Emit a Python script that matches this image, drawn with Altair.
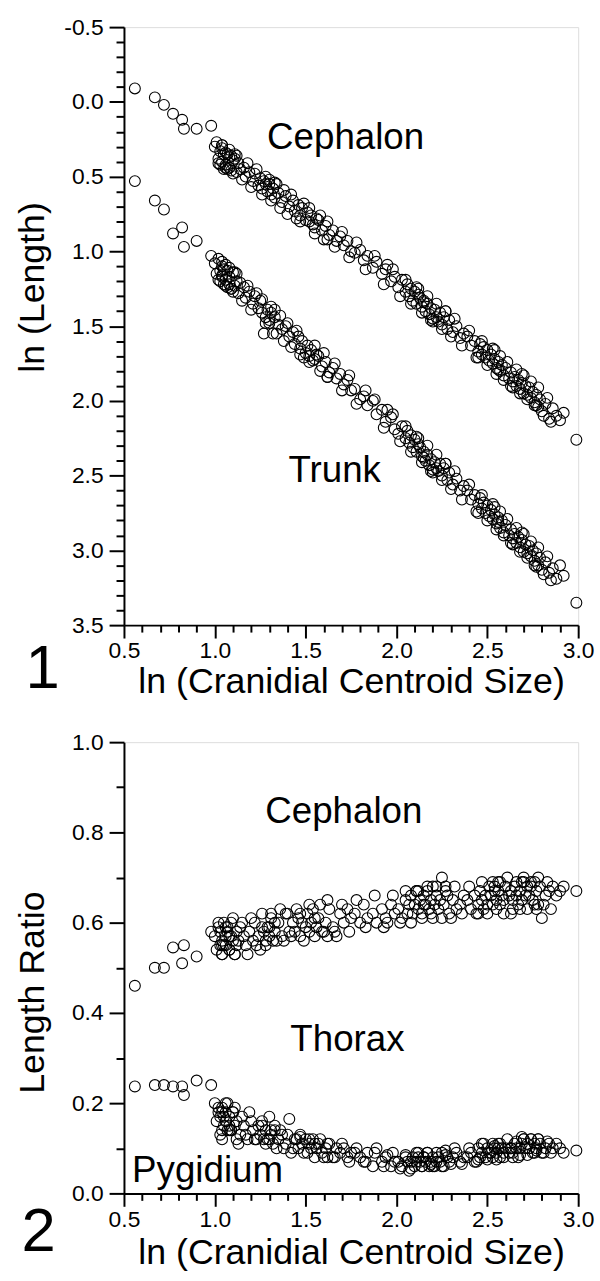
import altair as alt
import pandas as pd

FONT = "Liberation Sans"

# ln (Cranidial Centroid Size) for every specimen (shared by all four series)
x_size = [
    0.56, 0.67, 0.72, 0.77, 0.82, 0.83, 0.90, 0.98,
    1.00, 1.01, 1.02, 1.03, 1.03, 1.04, 1.04, 1.05, 1.05, 1.06,
    1.06, 1.07, 1.08, 1.08, 1.09, 1.10, 1.11, 1.12, 1.13, 1.14,
    1.16, 1.17, 1.19, 1.21, 1.22, 1.24, 1.25, 1.26, 1.27, 1.28,
    1.29, 1.30, 1.31, 1.32, 1.33, 1.35, 1.37, 1.39, 1.41, 1.43,
    1.44, 1.46, 1.47, 1.48, 1.50, 1.51, 1.52, 1.53, 1.54, 1.56,
    1.57, 1.59, 1.61, 1.63, 1.65, 1.67, 1.69, 1.71, 1.73, 1.75,
    1.77, 1.80, 1.82, 1.84, 1.87, 1.89, 1.92, 1.94, 1.97, 1.99,
    2.01, 2.03, 2.05, 2.06, 2.07, 2.08, 2.09, 2.10, 2.11, 2.12,
    2.13, 2.14, 2.15, 2.16, 2.17, 2.18, 2.19, 2.20, 2.21, 2.22,
    2.23, 2.24, 2.25, 2.26, 2.28, 2.29, 2.31, 2.33, 2.35, 2.37,
    2.39, 2.41, 2.43, 2.45, 2.46, 2.47, 2.48, 2.49, 2.50, 2.51,
    2.52, 2.53, 2.54, 2.55, 2.56, 2.57, 2.58, 2.59, 2.60, 2.62,
    2.63, 2.64, 2.65, 2.66, 2.67, 2.68, 2.69, 2.70, 2.71, 2.72,
    2.73, 2.74, 2.75, 2.76, 2.77, 2.78, 2.79, 2.80, 2.82, 2.84,
    2.86, 2.88, 2.90, 2.92, 1.04, 1.09, 1.30, 1.55, 2.15, 2.56,
    2.99,
    1.02, 1.04, 1.06, 1.08, 1.10, 1.12, 1.15, 1.18, 1.20, 1.23,
    1.26, 1.28, 1.31, 1.34, 1.36, 1.38, 1.40, 1.42, 1.45, 1.49,
    1.52, 1.55, 1.58, 1.60, 1.62, 1.66, 1.70, 1.74, 1.78, 1.83,
    1.88, 1.93, 1.98, 2.02, 2.05, 2.08, 2.11, 2.14, 2.17, 2.20,
    2.22, 2.25, 2.27, 2.30, 2.32, 2.36, 2.40, 2.44, 2.47, 2.50,
    2.53, 2.55, 2.57, 2.59, 2.61, 2.64, 2.66, 2.68, 2.70, 2.72,
    2.74, 2.76, 2.78, 2.81, 2.83, 2.85, 1.07, 1.33, 1.62, 2.12,
    2.19, 2.27, 2.45, 2.54, 2.63, 2.69, 2.77, 1.11, 1.47, 1.95,
]

ln_cephalon = [
    -0.09, -0.03, 0.02, 0.08, 0.12, 0.18, 0.18, 0.16,
    0.30, 0.27, 0.38, 0.33, 0.42, 0.31, 0.40, 0.35, 0.45, 0.34,
    0.42, 0.35, 0.44, 0.37, 0.46, 0.39, 0.38, 0.47, 0.41, 0.45,
    0.44, 0.50, 0.47, 0.53, 0.48, 0.56, 0.51, 0.58, 0.53, 0.55,
    0.60, 0.55, 0.62, 0.58, 0.64, 0.61, 0.67, 0.63, 0.70, 0.66,
    0.73, 0.69, 0.76, 0.71, 0.79, 0.74, 0.80, 0.76, 0.82, 0.78,
    0.79, 0.86, 0.83, 0.89, 0.86, 0.93, 0.90, 0.96, 0.93, 1.00,
    1.01, 0.99, 1.06, 1.03, 1.11, 1.07, 1.15, 1.12, 1.20, 1.17,
    1.24, 1.19, 1.27, 1.22, 1.30, 1.25, 1.33, 1.27, 1.35, 1.29,
    1.31, 1.37, 1.33, 1.40, 1.35, 1.42, 1.38, 1.45, 1.39, 1.44,
    1.47, 1.41, 1.49, 1.44, 1.52, 1.46, 1.54, 1.50, 1.58, 1.55,
    1.57, 1.63, 1.60, 1.67, 1.62, 1.69, 1.64, 1.71, 1.66, 1.73,
    1.69, 1.75, 1.72, 1.78, 1.74, 1.80, 1.76, 1.83, 1.78, 1.85,
    1.81, 1.87, 1.84, 1.90, 1.86, 1.92, 1.88, 1.95, 1.90, 1.96,
    1.91, 1.98, 1.94, 2.01, 1.96, 2.04, 1.99, 2.07, 2.02, 2.12,
    2.05, 2.10, 2.13, 2.08, 0.29, 0.36, 0.52, 0.84, 1.34, 1.79,
    2.26,
    0.41, 0.29, 0.44, 0.32, 0.48, 0.36, 0.52, 0.41, 0.57, 0.45,
    0.62, 0.50, 0.66, 0.55, 0.71, 0.59, 0.75, 0.62, 0.78, 0.68,
    0.71, 0.88, 0.76, 0.92, 0.80, 0.97, 0.87, 1.04, 0.94, 1.12,
    1.03, 1.22, 1.12, 1.30, 1.19, 1.35, 1.24, 1.41, 1.30, 1.47,
    1.35, 1.52, 1.40, 1.57, 1.45, 1.63, 1.53, 1.71, 1.60, 1.76,
    1.65, 1.82, 1.70, 1.86, 1.74, 1.91, 1.79, 1.95, 1.83, 1.99,
    1.87, 2.03, 1.91, 2.10, 1.98, 2.14, 0.45, 0.54, 0.92, 1.25,
    1.46, 1.40, 1.71, 1.66, 1.90, 1.82, 2.03, 0.35, 0.80, 1.09,
]

ln_trunk = [
    0.53, 0.66, 0.72, 0.88, 0.84, 0.97, 0.93, 1.03,
    1.08, 1.15, 1.05, 1.13, 1.20, 1.10, 1.17, 1.12, 1.22, 1.09,
    1.19, 1.13, 1.22, 1.17, 1.25, 1.14, 1.23, 1.20, 1.28, 1.21,
    1.24, 1.31, 1.27, 1.35, 1.30, 1.38, 1.33, 1.41, 1.55, 1.44,
    1.39, 1.46, 1.41, 1.55, 1.44, 1.49, 1.52, 1.50, 1.57, 1.54,
    1.62, 1.57, 1.65, 1.60, 1.68, 1.63, 1.70, 1.66, 1.73, 1.69,
    1.70, 1.77, 1.74, 1.81, 1.78, 1.85, 1.82, 1.89, 1.86, 1.93,
    1.92, 1.99, 1.97, 2.03, 2.00, 2.09, 2.06, 2.14, 2.11, 2.19,
    2.22, 2.17, 2.25, 2.20, 2.28, 2.23, 2.31, 2.26, 2.34, 2.29,
    2.31, 2.37, 2.34, 2.40, 2.36, 2.43, 2.39, 2.46, 2.41, 2.45,
    2.47, 2.42, 2.50, 2.45, 2.53, 2.48, 2.56, 2.52, 2.60, 2.57,
    2.60, 2.66, 2.63, 2.69, 2.65, 2.72, 2.68, 2.75, 2.70, 2.77,
    2.73, 2.79, 2.76, 2.82, 2.78, 2.85, 2.80, 2.88, 2.83, 2.90,
    2.86, 2.92, 2.89, 2.95, 2.91, 2.98, 2.93, 3.01, 2.96, 3.02,
    2.97, 3.04, 3.00, 3.07, 3.02, 3.10, 3.05, 3.13, 3.08, 3.15,
    3.12, 3.19, 3.10, 3.17, 1.16, 1.25, 1.48, 1.72, 2.38, 2.81,
    3.35,
    1.19, 1.07, 1.23, 1.11, 1.27, 1.15, 1.33, 1.23, 1.39, 1.28,
    1.32, 1.48, 1.37, 1.55, 1.43, 1.60, 1.48, 1.64, 1.53, 1.71,
    1.74, 1.63, 1.80, 1.68, 1.84, 1.75, 1.93, 1.83, 2.02, 1.93,
    1.99, 2.18, 2.09, 2.27, 2.17, 2.34, 2.24, 2.41, 2.30, 2.48,
    2.36, 2.53, 2.42, 2.59, 2.47, 2.66, 2.56, 2.74, 2.63, 2.80,
    2.69, 2.86, 2.74, 2.90, 2.79, 2.96, 2.85, 3.01, 2.89, 3.05,
    2.94, 3.10, 2.98, 3.16, 3.04, 3.20, 1.24, 1.39, 1.84, 2.25,
    2.47, 2.42, 2.75, 2.71, 2.95, 2.88, 3.11, 1.14, 1.69, 2.06,
]

ratio_cephalon = [
    0.46, 0.50, 0.50, 0.545, 0.51, 0.55, 0.525, 0.58,
    0.57, 0.54, 0.59, 0.55, 0.58, 0.53, 0.56, 0.60, 0.55, 0.57,
    0.55, 0.58, 0.54, 0.57, 0.60, 0.56, 0.53, 0.58, 0.56, 0.59,
    0.57, 0.55, 0.58, 0.56, 0.60, 0.57, 0.54, 0.59, 0.58, 0.56,
    0.59, 0.57, 0.61, 0.56, 0.58, 0.60, 0.57, 0.62, 0.58, 0.60,
    0.58, 0.61, 0.57, 0.60, 0.59, 0.62, 0.58, 0.60, 0.63, 0.59,
    0.61, 0.58, 0.60, 0.63, 0.59, 0.57, 0.62, 0.60, 0.63, 0.61,
    0.62, 0.60, 0.64, 0.61, 0.62, 0.60, 0.63, 0.61, 0.64, 0.62,
    0.63, 0.61, 0.65, 0.62, 0.64, 0.66, 0.62, 0.64, 0.67, 0.63,
    0.65, 0.62, 0.66, 0.64, 0.67, 0.63, 0.65, 0.68, 0.64, 0.66,
    0.63, 0.65, 0.70, 0.64, 0.66, 0.62, 0.65, 0.63, 0.64, 0.66,
    0.65, 0.63, 0.66, 0.64, 0.67, 0.65, 0.63, 0.66, 0.64, 0.68,
    0.66, 0.64, 0.67, 0.65, 0.69, 0.64, 0.66, 0.65, 0.68, 0.66,
    0.67, 0.65, 0.68, 0.66, 0.64, 0.67, 0.65, 0.69, 0.66, 0.68,
    0.66, 0.68, 0.65, 0.69, 0.67, 0.64, 0.68, 0.61, 0.66, 0.67,
    0.68, 0.66, 0.67, 0.68, 0.55, 0.57, 0.59, 0.61, 0.64, 0.67,
    0.67,
    0.60, 0.53, 0.59, 0.54, 0.61, 0.55, 0.60, 0.53, 0.61, 0.55,
    0.62, 0.55, 0.62, 0.56, 0.63, 0.56, 0.62, 0.57, 0.63, 0.56,
    0.64, 0.57, 0.64, 0.58, 0.65, 0.58, 0.64, 0.58, 0.65, 0.59,
    0.66, 0.59, 0.66, 0.60, 0.67, 0.60, 0.67, 0.61, 0.68, 0.61,
    0.68, 0.61, 0.68, 0.61, 0.68, 0.62, 0.68, 0.62, 0.69, 0.62,
    0.69, 0.63, 0.69, 0.62, 0.70, 0.63, 0.69, 0.63, 0.70, 0.63,
    0.69, 0.64, 0.70, 0.64, 0.69, 0.63, 0.59, 0.60, 0.57, 0.67,
    0.62, 0.67, 0.62, 0.68, 0.62, 0.69, 0.63, 0.53, 0.62, 0.60,
]

ratio_pygidium = [
    0.237, 0.24, 0.24, 0.237, 0.237, 0.218, 0.25, 0.24,
    0.20, 0.16, 0.18, 0.13, 0.17, 0.12, 0.19, 0.15, 0.17, 0.18,
    0.16, 0.20, 0.15, 0.17, 0.14, 0.18, 0.15, 0.16, 0.11, 0.13,
    0.15, 0.13, 0.18, 0.14, 0.12, 0.15, 0.13, 0.16, 0.12, 0.14,
    0.12, 0.17, 0.13, 0.11, 0.14, 0.12, 0.13, 0.11, 0.165, 0.10,
    0.12, 0.10, 0.13, 0.11, 0.12, 0.09, 0.11, 0.10, 0.12, 0.10,
    0.11, 0.09, 0.10, 0.11, 0.08, 0.10, 0.09, 0.10, 0.08, 0.09,
    0.09, 0.08, 0.07, 0.09, 0.06, 0.10, 0.07, 0.08, 0.06, 0.07,
    0.07, 0.06, 0.08, 0.07, 0.05, 0.07, 0.08, 0.06, 0.07, 0.08,
    0.07, 0.06, 0.08, 0.07, 0.09, 0.06, 0.07, 0.08, 0.06, 0.07,
    0.08, 0.07, 0.09, 0.06, 0.08, 0.07, 0.08, 0.09, 0.07, 0.08,
    0.08, 0.09, 0.07, 0.10, 0.08, 0.09, 0.11, 0.08, 0.10, 0.09,
    0.09, 0.08, 0.10, 0.09, 0.11, 0.08, 0.10, 0.09, 0.10, 0.09,
    0.10, 0.09, 0.11, 0.10, 0.08, 0.10, 0.11, 0.12, 0.10, 0.11,
    0.10, 0.12, 0.09, 0.11, 0.10, 0.12, 0.11, 0.09, 0.10, 0.11,
    0.10, 0.11, 0.10, 0.09, 0.18, 0.14, 0.12, 0.11, 0.08, 0.10,
    0.095,
    0.19, 0.14, 0.20, 0.14, 0.18, 0.12, 0.17, 0.12, 0.16, 0.12,
    0.15, 0.11, 0.14, 0.10, 0.14, 0.10, 0.13, 0.09, 0.12, 0.09,
    0.12, 0.08, 0.12, 0.08, 0.11, 0.08, 0.11, 0.07, 0.10, 0.07,
    0.09, 0.06, 0.09, 0.055, 0.085, 0.055, 0.09, 0.06, 0.09, 0.06,
    0.09, 0.06, 0.095, 0.065, 0.10, 0.065, 0.10, 0.07, 0.11, 0.075,
    0.11, 0.075, 0.11, 0.08, 0.12, 0.08, 0.115, 0.085, 0.12, 0.085,
    0.12, 0.09, 0.12, 0.09, 0.115, 0.09, 0.14, 0.15, 0.08, 0.09,
    0.065, 0.085, 0.075, 0.105, 0.10, 0.125, 0.095, 0.19, 0.125, 0.085,
]

x_tick_values = [0.5, 0.6, 0.7, 0.8, 0.9, 1.0, 1.1, 1.2, 1.3, 1.4, 1.5, 1.6,
                 1.7, 1.8, 1.9, 2.0, 2.1, 2.2, 2.3, 2.4, 2.5, 2.6, 2.7, 2.8,
                 2.9, 3.0]
y_top_tick_values = [-0.5, -0.4, -0.3, -0.2, -0.1, 0.0, 0.1, 0.2, 0.3, 0.4,
                     0.5, 0.6, 0.7, 0.8, 0.9, 1.0, 1.1, 1.2, 1.3, 1.4, 1.5,
                     1.6, 1.7, 1.8, 1.9, 2.0, 2.1, 2.2, 2.3, 2.4, 2.5, 2.6,
                     2.7, 2.8, 2.9, 3.0, 3.1, 3.2, 3.3, 3.4, 3.5]
y_bottom_tick_values = [0.0, 0.1, 0.2, 0.3, 0.4, 0.5, 0.6, 0.7, 0.8, 0.9, 1.0]

top_labels = ["Cephalon", "Trunk"]
top_label_x = [1.72, 1.66]
top_label_y = [0.24, 2.47]
bottom_labels = ["Cephalon", "Thorax", "Pygidium"]
bottom_label_x = [1.71, 1.73, 0.96]
bottom_label_y = [0.846, 0.34, 0.05]

n = min(len(x_size), len(ln_cephalon), len(ln_trunk), len(ratio_cephalon), len(ratio_pygidium))

top_df = pd.DataFrame({
    "x": x_size[:n] * 2,
    "y": ln_cephalon[:n] + ln_trunk[:n],
})
bottom_df = pd.DataFrame({
    "x": x_size[:n] * 2,
    "y": ratio_cephalon[:n] + ratio_pygidium[:n],
})

TOP_W, TOP_H = 458, 603
BOT_W, BOT_H = 458, 455

LABEL_SIZE = 23
TITLE_SIZE = 36
NOTE_SIZE = 37
NUM_SIZE = 62


def major(step_mult):
    return f"abs(datum.value*{step_mult} - round(datum.value*{step_mult})) < 0.000001"


def lab_expr(step_mult):
    return (f"{major(step_mult)} ? (datum.value < 0 ? '-' + format(-datum.value, '.1f') "
            f": format(datum.value, '.1f')) : ''")


def common_axis(values, **kw):
    return alt.Axis(
        values=values, tickCount=len(values) + 5,
        grid=False, domainColor="black", domainWidth=2, tickColor="black",
        tickWidth=2, labelColor="black", titleColor="black",
        labelFont=FONT, titleFont=FONT, labelFontSize=LABEL_SIZE,
        titleFontSize=TITLE_SIZE, titleFontWeight="normal",
        labelFlush=False, labelOverlap=False, **kw)


def x_axis(title_pad):
    return common_axis(
        x_tick_values, labelExpr=lab_expr(2),
        tickSize={"condition": {"test": major(2), "value": 13}, "value": 7},
        labelPadding=2, titlePadding=title_pad,
        title="ln (Cranidial Centroid Size)")


x_scale = alt.Scale(domain=[0.5, 3.0], nice=False, zero=False)

circles = dict(shape="circle", filled=False, color="black", size=120, strokeWidth=1.1, opacity=1)

top_points = alt.Chart(top_df).mark_point(**circles).encode(
    x=alt.X("x:Q", scale=x_scale, axis=x_axis(2)),
    y=alt.Y("y:Q", scale=alt.Scale(domain=[-0.5, 3.5], nice=False, zero=False, reverse=True),
            axis=common_axis(
                y_top_tick_values, labelExpr=lab_expr(2),
                tickSize={"condition": {"test": major(2), "value": 15}, "value": 8},
                labelPadding=6, title="ln (Length)", titleX=-92, titleY=262,
                titleBaseline="middle")),
)
top_text = alt.Chart(pd.DataFrame({"t": top_labels, "x": top_label_x, "y": top_label_y})).mark_text(
    font=FONT, fontSize=NOTE_SIZE, color="black", align="center", baseline="middle"
).encode(x="x:Q", y="y:Q", text="t:N")
top_num = alt.Chart(pd.DataFrame({"t": ["1"]})).mark_text(
    font=FONT, fontSize=NUM_SIZE, color="black", align="center", baseline="middle"
).encode(x=alt.value(-82), y=alt.value(TOP_H + 44), text="t:N")
top = alt.layer(top_points, top_text, top_num).properties(width=TOP_W, height=TOP_H)

bottom_points = alt.Chart(bottom_df).mark_point(**circles).encode(
    x=alt.X("x:Q", scale=x_scale, axis=x_axis(5)),
    y=alt.Y("y:Q", scale=alt.Scale(domain=[0.0, 1.0], nice=False, zero=False),
            axis=common_axis(
                y_bottom_tick_values, labelExpr=lab_expr(5),
                tickSize={"condition": {"test": major(5), "value": 15}, "value": 8},
                labelPadding=6, title="Length Ratio", titleX=-92, titleY=252,
                titleBaseline="middle")),
)
bottom_text = alt.Chart(pd.DataFrame({"t": bottom_labels, "x": bottom_label_x, "y": bottom_label_y})).mark_text(
    font=FONT, fontSize=NOTE_SIZE, color="black", align="center", baseline="middle"
).encode(x="x:Q", y="y:Q", text="t:N")
bottom_num = alt.Chart(pd.DataFrame({"t": ["2"]})).mark_text(
    font=FONT, fontSize=NUM_SIZE, color="black", align="center", baseline="middle"
).encode(x=alt.value(-86), y=alt.value(BOT_H + 39), text="t:N")
bottom = alt.layer(bottom_points, bottom_text, bottom_num).properties(width=BOT_W, height=BOT_H)

chart = alt.vconcat(top, bottom, spacing=30).properties(
    padding={"left": 14, "top": 10, "right": 5, "bottom": 5}
).configure_view(stroke=None).configure(background="white")

chart.save("out.html", embed_options={"renderer": "svg", "actions": False})
